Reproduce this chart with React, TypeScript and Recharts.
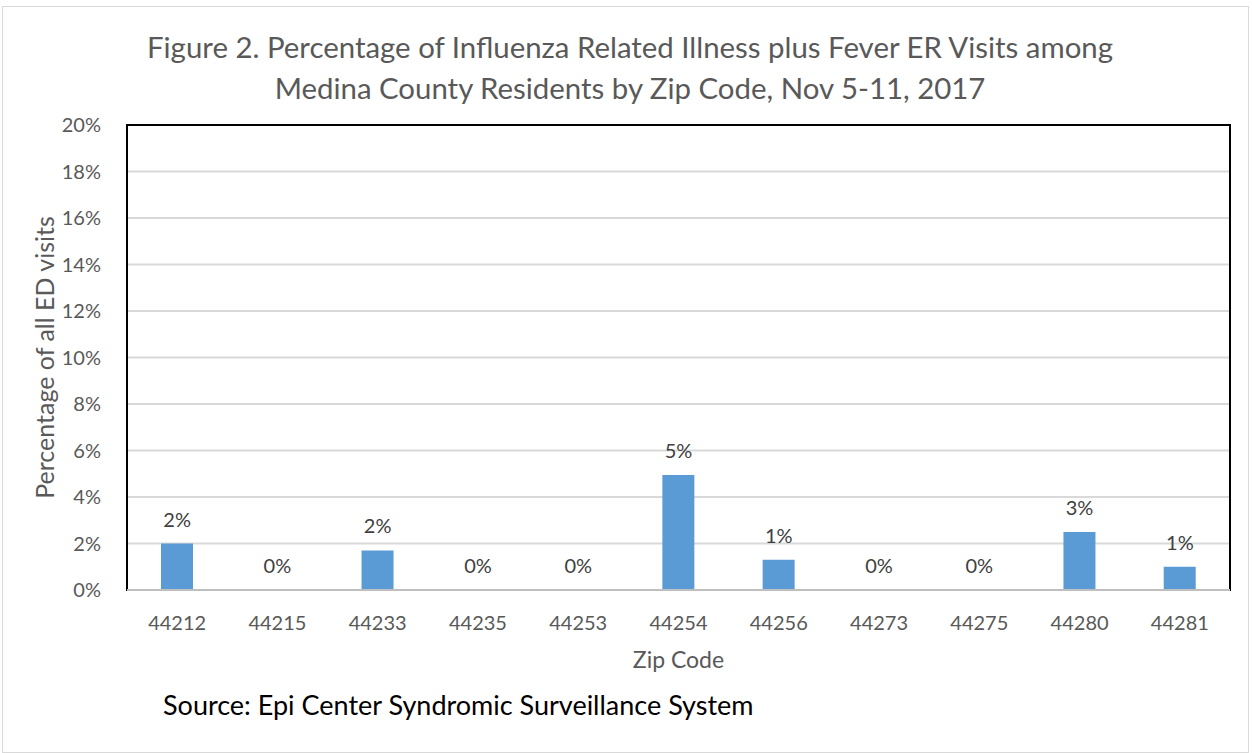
import { ComposedChart, Bar, Line, XAxis, YAxis, CartesianGrid, LabelList, ReferenceArea, ReferenceLine } from 'recharts'

const zipCodes = ['44212', '44215', '44233', '44235', '44253', '44254', '44256', '44273', '44275', '44280', '44281']
const percents = [2.0, 0, 1.7, 0, 0, 4.95, 1.3, 0, 0, 2.5, 1.0]
const yTicks = [0, 2, 4, 6, 8, 10, 12, 14, 16, 18, 20]

const data = zipCodes.map((zip, i) => ({ zip, pct: percents[i] }))

const font = 'Lato, "Open Sans", sans-serif'
const grey = '#595959'

export default function App() {
  return (
    <div style={{ position: 'absolute', left: 0, top: 0, width: 1252, height: 753, background: '#fff', fontFamily: font }}>
      <div style={{ position: 'absolute', left: 2, top: 6, width: 1245, height: 745, border: '1px solid #d9d9d9' }} />
      <div style={{ position: 'absolute', left: 0, top: 26, width: 1260, textAlign: 'center', fontSize: 29.4, lineHeight: '41px', color: grey }}>
        Figure 2. Percentage of Influenza Related Illness plus Fever ER Visits among
        <br />
        Medina County Residents by Zip Code, Nov 5-11, 2017
      </div>
      <div style={{ position: 'absolute', left: 163, top: 688, fontSize: 27, color: '#000' }}>
        Source: Epi Center Syndromic Surveillance System
      </div>
      <div style={{ position: 'absolute', left: 0, top: 0 }}>
        <ComposedChart
          width={1252}
          height={753}
          data={data}
          margin={{ top: 125, right: 22, bottom: 123, left: 57 }}
          barSize={32}
        >
          <CartesianGrid vertical={false} stroke="#d9d9d9" strokeWidth={2} />
          <XAxis
            dataKey="zip"
            height={40}
            tickLine={false}
            axisLine={false}
            tick={{ fill: grey, fontSize: 20, fontFamily: font }}
            tickMargin={20}
            label={{ value: 'Zip Code', position: 'insideBottom', offset: -38, fill: grey, fontSize: 23, fontFamily: font }}
          />
          <YAxis
            width={70}
            domain={[0, 20]}
            ticks={yTicks}
            interval={0}
            tickFormatter={(v: number) => `${v}%`}
            tickLine={false}
            axisLine={false}
            tick={{ fill: grey, fontSize: 20, fontFamily: font }}
            tickMargin={20}
            label={{ value: 'Percentage of all ED visits', angle: -90, position: 'insideLeft', offset: -12, style: { textAnchor: 'middle' }, fill: grey, fontSize: 25, fontFamily: font }}
          />
          <ReferenceArea y1={0} y2={20} fill="none" stroke="#000" strokeWidth={2} ifOverflow="visible" />
          <ReferenceLine y={0} stroke="#bfbfbf" strokeWidth={2} />
          <Bar dataKey="pct" fill="#5b9bd5" isAnimationActive={false} />
          <Line dataKey="pct" stroke="none" dot={false} activeDot={false} isAnimationActive={false}>
            <LabelList
              dataKey="pct"
              position="top"
              offset={17}
              formatter={(v: number) => `${Math.round(v)}%`}
              style={{ fill: '#404040', fontSize: 20, fontFamily: font }}
            />
          </Line>
        </ComposedChart>
      </div>
    </div>
  )
}
